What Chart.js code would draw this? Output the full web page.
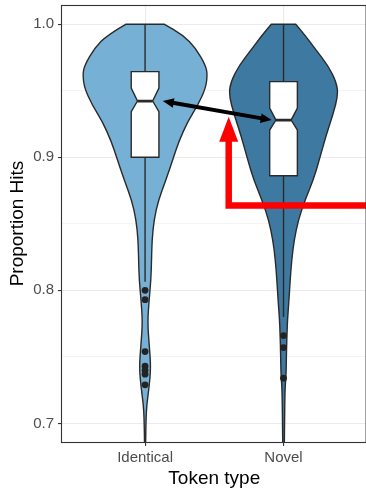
<!DOCTYPE html>
<html>
<head>
<meta charset="utf-8">
<script src="https://cdn.jsdelivr.net/npm/chart.js@4/dist/chart.umd.min.js"></script>
<style>
  html, body { margin: 0; padding: 0; overflow: hidden; background: #ffffff; width: 366px; height: 489px; }
  #wrap { width: 370px; height: 489px; }
</style>
</head>
<body>
<div id="wrap"><canvas id="chart" width="370" height="489"></canvas></div>
<script>
// ---- data ----
const categories = ['Identical', 'Novel'];
const yTickValues = [0.7, 0.75, 0.8, 0.85, 0.9, 0.95, 1.0];
const yTickLabels = ['0.7', '', '0.8', '', '0.9', '', '1.0'];

// violin density profiles: proportion values and relative density (1 = widest violin)
const identicalDensityAt = [1.000, 0.992, 0.982, 0.969, 0.962, 0.952, 0.939, 0.927, 0.912, 0.898, 0.883, 0.868, 0.853, 0.838, 0.823, 0.808, 0.794, 0.776, 0.759, 0.742, 0.727, 0.714, 0.704, 0.690, 0.680];
const identicalDensity   = [0.311, 0.606, 0.813, 0.973, 1.000, 0.973, 0.845, 0.686, 0.542, 0.442, 0.335, 0.215, 0.144, 0.112, 0.104, 0.094, 0.067, 0.040, 0.067, 0.093, 0.064, 0.027, 0.016, 0.010, 0.008];
const novelDensityAt     = [1.000, 0.992, 0.982, 0.969, 0.957, 0.947, 0.932, 0.917, 0.898, 0.883, 0.868, 0.853, 0.838, 0.823, 0.808, 0.793, 0.778, 0.768, 0.755, 0.735, 0.727, 0.700, 0.680];
const novelDensity       = [0.196, 0.341, 0.501, 0.713, 0.845, 0.877, 0.793, 0.686, 0.574, 0.478, 0.346, 0.239, 0.171, 0.132, 0.107, 0.088, 0.064, 0.056, 0.048, 0.040, 0.024, 0.016, 0.012];

// box plot statistics, one entry per category
const q1          = [0.9000, 0.8862];
const medians     = [0.9423, 0.9280];
const q3          = [0.9644, 0.9569];
const notchLow    = [0.9343, 0.9205];
const notchHigh   = [0.9520, 0.9370];
const whiskerLow  = [0.8065, 0.7800];
const whiskerHigh = [1.0000, 1.0000];

// outlying proportions
const identicalOutliers = [0.800, 0.793, 0.754, 0.743, 0.740, 0.737, 0.729];
const novelOutliers     = [0.766, 0.757, 0.734];

// ---- styling ----
const violinFill = ['#76B0D4', '#3E79A1'];
const outlineColor = '#2A2A2A';
const violinHalfWidth = 0.45;   // widest violin half-width in category units
const boxHalfWidth = 0.1;
const notchHalfWidth = 0.055;

function smoothSide(ctx, pts, startNew) {
  if (startNew) ctx.moveTo(pts[0].x, pts[0].y); else ctx.lineTo(pts[0].x, pts[0].y);
  for (let k = 1; k < pts.length - 1; k++) {
    const mx = (pts[k].x + pts[k + 1].x) / 2, my = (pts[k].y + pts[k + 1].y) / 2;
    ctx.quadraticCurveTo(pts[k].x, pts[k].y, mx, my);
  }
  const last = pts[pts.length - 1];
  ctx.lineTo(last.x, last.y);
}

const violinPlugin = {
  id: 'violinBoxes',
  beforeDatasetsDraw(chart) {
    const { ctx, chartArea: a, scales: { x, y } } = chart;
    const profiles = [
      { at: identicalDensityAt, d: identicalDensity },
      { at: novelDensityAt, d: novelDensity }
    ];
    ctx.save();
    ctx.beginPath();
    ctx.rect(a.left, a.top, a.right - a.left, a.bottom - a.top);
    ctx.clip();
    categories.forEach((cat, i) => {
      const c = i + 1;
      const p = profiles[i];
      const left = p.at.map((v, k) => ({ x: x.getPixelForValue(c - p.d[k] * violinHalfWidth), y: y.getPixelForValue(v) }));
      const right = p.at.map((v, k) => ({ x: x.getPixelForValue(c + p.d[k] * violinHalfWidth), y: y.getPixelForValue(v) })).reverse();
      ctx.beginPath();
      smoothSide(ctx, left, true);
      smoothSide(ctx, right, false);
      ctx.closePath();
      ctx.fillStyle = violinFill[i];
      ctx.fill();
      ctx.lineWidth = 1.4;
      ctx.lineJoin = 'round';
      ctx.strokeStyle = outlineColor;
      ctx.stroke();

      // whiskers
      const cx = x.getPixelForValue(c);
      ctx.beginPath();
      ctx.moveTo(cx, y.getPixelForValue(q3[i]));
      ctx.lineTo(cx, y.getPixelForValue(whiskerHigh[i]));
      ctx.moveTo(cx, y.getPixelForValue(q1[i]));
      ctx.lineTo(cx, y.getPixelForValue(whiskerLow[i]));
      ctx.lineWidth = 1.4;
      ctx.stroke();

      // notched box
      const xl = x.getPixelForValue(c - boxHalfWidth), xr = x.getPixelForValue(c + boxHalfWidth);
      const nl = x.getPixelForValue(c - notchHalfWidth), nr = x.getPixelForValue(c + notchHalfWidth);
      const yq3 = y.getPixelForValue(q3[i]), yq1 = y.getPixelForValue(q1[i]);
      const ynh = y.getPixelForValue(notchHigh[i]), ynl = y.getPixelForValue(notchLow[i]);
      const ym = y.getPixelForValue(medians[i]);
      ctx.beginPath();
      ctx.moveTo(xl, yq3); ctx.lineTo(xr, yq3); ctx.lineTo(xr, ynh); ctx.lineTo(nr, ym);
      ctx.lineTo(xr, ynl); ctx.lineTo(xr, yq1); ctx.lineTo(xl, yq1); ctx.lineTo(xl, ynl);
      ctx.lineTo(nl, ym); ctx.lineTo(xl, ynh); ctx.closePath();
      ctx.fillStyle = '#FFFFFF';
      ctx.fill();
      ctx.lineWidth = 1.4;
      ctx.lineJoin = 'miter';
      ctx.stroke();
      // median
      ctx.beginPath();
      ctx.moveTo(nl, ym); ctx.lineTo(nr, ym);
      ctx.lineWidth = 2.8;
      ctx.stroke();
    });
    ctx.restore();
  },
  afterDatasetsDraw(chart) {
    const { ctx, scales: { x, y } } = chart;
    ctx.save();
    // double-headed arrow between the two medians
    const x0 = x.getPixelForValue(1.128), y0 = y.getPixelForValue(medians[0]);
    const x1 = x.getPixelForValue(1.914), y1 = y.getPixelForValue(medians[1]);
    const ang = Math.atan2(y1 - y0, x1 - x0);
    const hl = 11, hw = 4.8;
    const ux = Math.cos(ang), uy = Math.sin(ang);
    ctx.strokeStyle = '#000000';
    ctx.fillStyle = '#000000';
    ctx.lineWidth = 4;
    ctx.lineCap = 'butt';
    ctx.beginPath();
    ctx.moveTo(x0 + ux * (hl - 1), y0 + uy * (hl - 1));
    ctx.lineTo(x1 - ux * (hl - 1), y1 - uy * (hl - 1));
    ctx.stroke();
    [[x0, y0, 1], [x1, y1, -1]].forEach(([tx, ty, s]) => {
      const bx = tx + s * ux * hl, by = ty + s * uy * hl;
      ctx.beginPath();
      ctx.moveTo(tx, ty);
      ctx.lineTo(bx - uy * hw, by + ux * hw);
      ctx.lineTo(bx + uy * hw, by - ux * hw);
      ctx.closePath();
      ctx.fill();
    });

    // red elbow arrow
    const rx = x.getPixelForValue(1.604);
    const ry = y.getPixelForValue(0.8638);
    const tipY = y.getPixelForValue(0.9305);
    const headLen = 25, headHalf = 9.5;
    ctx.strokeStyle = '#FF0000';
    ctx.fillStyle = '#FF0000';
    ctx.lineWidth = 6.5;
    ctx.lineJoin = 'miter';
    ctx.beginPath();
    ctx.moveTo(chart.width + 10, ry);
    ctx.lineTo(rx, ry);
    ctx.lineTo(rx, tipY + headLen - 1);
    ctx.stroke();
    ctx.beginPath();
    ctx.moveTo(rx, tipY);
    ctx.lineTo(rx - headHalf, tipY + headLen);
    ctx.lineTo(rx + headHalf, tipY + headLen);
    ctx.closePath();
    ctx.fill();
    ctx.restore();
  },
  afterDraw(chart) {
    const { ctx, chartArea: a } = chart;
    ctx.save();
    ctx.strokeStyle = '#333333';
    ctx.lineWidth = 1.1;
    ctx.strokeRect(Math.round(a.left) - 0.5, Math.round(a.top) + 0.5, a.right - a.left, a.bottom - a.top);
    ctx.restore();
  }
};

const tickFont = { family: '"Liberation Sans", Arial, sans-serif', size: 15 };
const titleFont = { family: '"Liberation Sans", Arial, sans-serif', size: 19, lineHeight: 1 };

new Chart(document.getElementById('chart'), {
  type: 'scatter',
  data: {
    datasets: [
      { label: categories[0], data: identicalOutliers.map(v => ({ x: 1, y: v })) },
      { label: categories[1], data: novelOutliers.map(v => ({ x: 2, y: v })) }
    ]
  },
  options: {
    responsive: false,
    animation: false,
    layout: { padding: { top: 5, right: 2, left: 0, bottom: 0 } },
    elements: { point: { radius: 3.4, backgroundColor: '#232323', borderWidth: 0, hoverRadius: 3.4 } },
    plugins: { legend: { display: false }, tooltip: { enabled: false } },
    scales: {
      x: {
        type: 'linear', min: 0.4, max: 2.6,
        afterBuildTicks: s => { s.ticks = categories.map((c, i) => ({ value: i + 1 })); },
        afterFit: s => { s.height = 47; s.paddingLeft = 0; s.paddingRight = 0; },
        ticks: { font: tickFont, color: '#4D4D4D', padding: 3, maxRotation: 0,
                 callback: v => categories[Math.round(v) - 1] },
        grid: { color: '#EBEBEB', lineWidth: 1.1, tickLength: 4, tickColor: '#333333', tickWidth: 1.1 },
        border: { display: false },
        title: { display: true, text: 'Token type', color: '#000000', font: titleFont, padding: { top: 0, bottom: 0.5 } }
      },
      y: {
        type: 'linear', min: 0.686, max: 1.0145,
        afterBuildTicks: s => { s.ticks = yTickValues.map(v => ({ value: v })); },
        afterFit: s => { s.width = 62; s.paddingTop = 0; s.paddingBottom = 0; },
        ticks: { font: tickFont, color: '#4D4D4D', padding: 4,
                 callback: (v, i) => yTickLabels[i] },
        grid: {
          color: '#EBEBEB',
          lineWidth: c => (yTickLabels[c.index] ? 1.1 : 0.55),
          tickLength: 4,
          tickWidth: 1.1,
          tickColor: c => (yTickLabels[c.index] ? '#333333' : 'rgba(0,0,0,0)')
        },
        border: { display: false },
        title: { display: true, text: 'Proportion Hits', color: '#000000', font: titleFont, padding: { top: 8, bottom: 0 } }
      }
    }
  },
  plugins: [violinPlugin]
});
</script>
</body>
</html>
